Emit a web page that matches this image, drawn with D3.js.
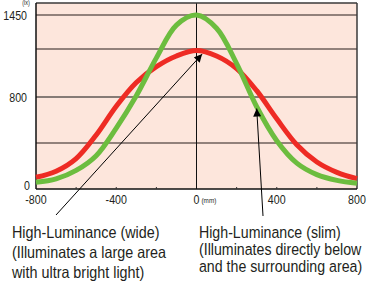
<!DOCTYPE html>
<html>
<head>
<meta charset="utf-8">
<script src="https://cdn.jsdelivr.net/npm/d3@7"></script>
<style>
  body { margin: 0; background: #fff; }
  text { font-family: "Liberation Sans", Arial, sans-serif; fill: #231f20; }
</style>
</head>
<body>
<svg id="graph"></svg>
<script>
// distance from centre (mm)
var positions = [-800, -700, -600, -500, -400, -300, -200, -100, 0, 100, 200, 300, 400, 500, 600, 700, 800];
// illuminance (lx)
var wideValues = [102, 155, 265, 470, 720, 915, 1040, 1125, 1168, 1125, 1025, 850, 610, 385, 235, 145, 90];
var slimValues = [58, 88, 162, 290, 530, 810, 1110, 1370, 1450, 1345, 1065, 715, 420, 225, 125, 75, 50];
var yLabels = [0, 800, 1450];
var xLabels = [-800, -400, 0, 400, 800];
var gridValues = [400, 800, 1180, 1450];
var xMinor = [-600, -400, -200, 200, 400, 600];
var wideText = ["High-Luminance (wide)", "(Illuminates a large area", "with ultra bright light)"];
var slimText = ["High-Luminance (slim)", "(Illuminates directly below", "and the surrounding area)"];

document.addEventListener("DOMContentLoaded", function() {
	var width = 378, height = 289,
		left = 36, right = 357, top = 3, bottom = 189,
		graph = d3.select("#graph").attr("width", width).attr("height", height);

	var x = d3.scaleLinear().domain([-800, 800]).range([left, right]),
		y = d3.scaleLinear().domain([0, 800, 1545]).range([bottom, 97, top]);

	// condensed look: squeeze text horizontally around its anchor
	var squeeze = function(sel, k) {
		sel.attr("transform", function() {
			var tx = +d3.select(this).attr("x");
			return "translate(" + tx + ",0) scale(" + k + ",1) translate(" + (-tx) + ",0)";
		});
	};

	// plot background
	graph.append("rect")
		.attr("x", left).attr("y", top)
		.attr("width", right - left).attr("height", bottom - top)
		.attr("fill", "#fde6dc");

	// horizontal grid
	graph.selectAll(".grid")
		.data(gridValues)
		.enter().append("line")
			.attr("x1", left).attr("x2", right)
			.attr("y1", function(d) { return y(d); })
			.attr("y2", function(d) { return y(d); })
			.attr("stroke", function(d) { return d === 800 ? "#111" : "#6e5f5b"; })
			.attr("stroke-width", function(d) { return d === 800 ? 1.2 : 1.4; });

	// centre line
	graph.append("line")
		.attr("x1", x(0)).attr("x2", x(0))
		.attr("y1", top).attr("y2", bottom)
		.attr("stroke", "#111").attr("stroke-width", 1);

	// frame
	graph.append("line").attr("x1", left).attr("x2", right).attr("y1", top).attr("y2", top)
		.attr("stroke", "#3a3a3a").attr("stroke-width", 1.5);
	graph.append("line").attr("x1", right).attr("x2", right).attr("y1", top).attr("y2", bottom)
		.attr("stroke", "#3a3a3a").attr("stroke-width", 1.5);
	graph.append("line").attr("x1", left).attr("x2", left).attr("y1", top).attr("y2", bottom)
		.attr("stroke", "#111").attr("stroke-width", 1.5);
	graph.append("line").attr("x1", left).attr("x2", right).attr("y1", bottom).attr("y2", bottom)
		.attr("stroke", "#111").attr("stroke-width", 1.5);

	// minor ticks
	graph.selectAll(".minor")
		.data(xMinor)
		.enter().append("line")
			.attr("x1", function(d) { return x(d); })
			.attr("x2", function(d) { return x(d); })
			.attr("y1", bottom - 2).attr("y2", bottom)
			.attr("stroke", "#333").attr("stroke-width", 1);

	// curves
	var line = d3.line()
		.x(function(d) { return x(d[0]); })
		.y(function(d) { return y(d[1]); })
		.curve(d3.curveCatmullRom.alpha(0.5));

	var plot = graph.append("g");
	plot.append("path")
		.datum(d3.zip(positions, wideValues))
		.attr("d", line)
		.attr("fill", "none").attr("stroke", "#ee2b24").attr("stroke-width", 5);
	plot.append("path")
		.datum(d3.zip(positions, slimValues))
		.attr("d", line)
		.attr("fill", "none").attr("stroke", "#6cbd3f").attr("stroke-width", 5);

	// y labels
	graph.selectAll(".ylab")
		.data(yLabels)
		.enter().append("text")
			.attr("x", function(d) { return d === 0 ? 30 : 27; })
			.attr("y", function(d) { return d === 0 ? y(d) - 4 : y(d); })
			.attr("dy", "0.36em")
			.attr("text-anchor", "end")
			.attr("font-size", 13)
			.text(function(d) { return d; })
			.call(squeeze, 0.82);

	graph.append("text")
		.attr("x", 26).attr("y", 5)
		.attr("text-anchor", "middle").attr("font-size", 6.5)
		.text("(lx)")
		.call(squeeze, 0.85);

	// x labels
	graph.selectAll(".xlab")
		.data(xLabels)
		.enter().append("text")
			.attr("x", function(d) { return x(d); })
			.attr("y", 204)
			.attr("text-anchor", "middle")
			.attr("font-size", 13)
			.text(function(d) { return d < 0 ? "-" + Math.abs(d) : d; })
			.call(squeeze, 0.82);

	graph.append("text")
		.attr("x", x(0) + 5).attr("y", 203)
		.attr("font-size", 7.5)
		.text("(mm)")
		.call(squeeze, 0.85);

	// annotation arrows
	graph.append("defs").append("marker")
		.attr("id", "head")
		.attr("viewBox", "0 0 10 10")
		.attr("refX", 10).attr("refY", 5)
		.attr("markerWidth", 9).attr("markerHeight", 8)
		.attr("markerUnits", "userSpaceOnUse")
		.attr("orient", "auto")
		.append("path").attr("d", "M0,0L10,5L0,10Z").attr("fill", "#000");

	graph.append("line")
		.attr("x1", 56).attr("y1", 215)
		.attr("x2", x(28)).attr("y2", y(1140))
		.attr("stroke", "#000").attr("stroke-width", 1)
		.attr("marker-end", "url(#head)");

	graph.append("line")
		.attr("x1", 263).attr("y1", 216)
		.attr("x2", x(300)).attr("y2", y(700))
		.attr("stroke", "#000").attr("stroke-width", 1)
		.attr("marker-end", "url(#head)");

	// captions
	graph.selectAll(".wide")
		.data(wideText)
		.enter().append("text")
			.attr("x", 12)
			.attr("y", function(d, i) { return 238 + i * 20; })
			.attr("font-size", 16.5)
			.text(function(d) { return d; })
			.call(squeeze, 0.87);

	graph.selectAll(".slim")
		.data(slimText)
		.enter().append("text")
			.attr("x", 199)
			.attr("y", function(d, i) { return 238 + i * 17; })
			.attr("font-size", 16.5)
			.text(function(d) { return d; })
			.call(squeeze, 0.86);
});
</script>
</body>
</html>
